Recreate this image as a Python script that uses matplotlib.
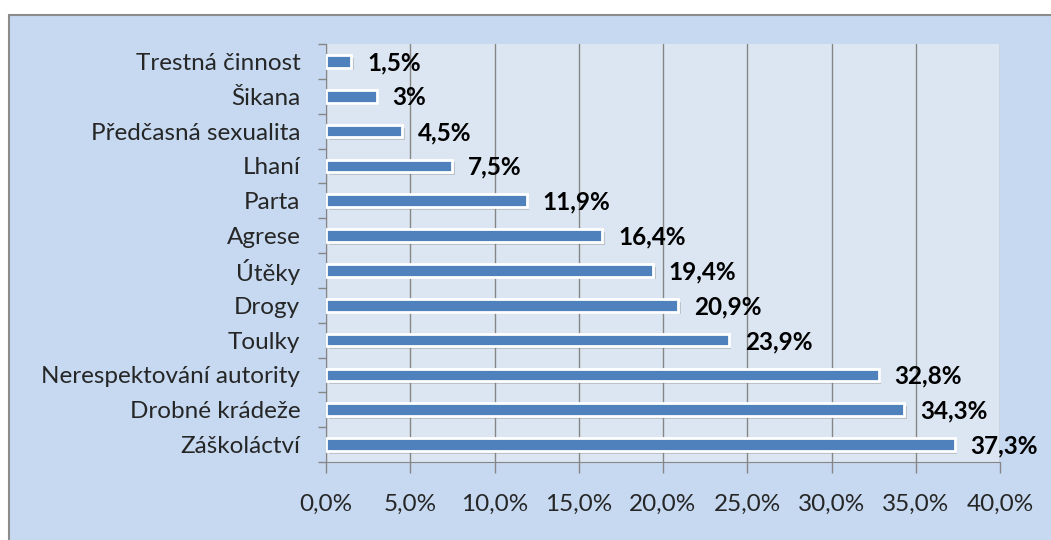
import matplotlib
matplotlib.use("Agg")
import matplotlib.pyplot as plt
import matplotlib.patheffects as pe
from matplotlib.patches import Rectangle
import numpy as np

categories = [
    "Záškoláctví",
    "Drobné krádeže",
    "Nerespektování autority",
    "Toulky",
    "Drogy",
    "Útěky",
    "Agrese",
    "Parta",
    "Lhaní",
    "Předčasná sexualita",
    "Šikana",
    "Trestná činnost",
]
values = [37.3, 34.3, 32.8, 23.9, 20.9, 19.4, 16.4, 11.9, 7.5, 4.5, 3.0, 1.5]
value_labels = ["37,3%", "34,3%", "32,8%", "23,9%", "20,9%", "19,4%",
                "16,4%", "11,9%", "7,5%", "4,5%", "3%", "1,5%"]
x_ticks = [0, 5, 10, 15, 20, 25, 30, 35, 40]
x_tick_labels = ["0,0%", "5,0%", "10,0%", "15,0%", "20,0%", "25,0%",
                 "30,0%", "35,0%", "40,0%"]

plt.rcParams["font.family"] = ["Lato", "DejaVu Sans"]

W, H = 1051, 540
fig = plt.figure(figsize=(W / 100, H / 100), dpi=100)
fig.patch.set_facecolor("white")

# chart area panel with grey border on the top and left
frame = Rectangle((9 / W, -0.05), 1.1, (H - 15) / H + 0.05,
                  transform=fig.transFigure, facecolor="#C6D9F1",
                  edgecolor="#8C8C8C", linewidth=1.5, zorder=-10)
fig.add_artist(frame)

ax = fig.add_axes([326 / W, (H - 462) / H, (1000 - 326) / W, (462 - 44) / H])
ax.set_zorder(1)
ax.set_facecolor("#DCE6F2")

y = np.arange(len(categories))
bars = ax.barh(y, values, height=0.36, color="#4F81BD", edgecolor="white",
               linewidth=2, zorder=3)
for b in bars:
    b.set_path_effects([pe.SimplePatchShadow(offset=(2, -2), shadow_rgbFace="#7F7F7F", alpha=0.35),
                        pe.Normal()])

for yi, v, lab in zip(y, values, value_labels):
    ax.annotate(lab, (v, yi), xytext=(11.5, -1), textcoords="offset points",
                ha="left", va="center", fontsize=17.5, fontweight="bold",
                color="black", zorder=5, annotation_clip=False)

ax.set_xlim(0, 40)
ax.set_ylim(-0.5, len(categories) - 0.5)

ax.set_xticks(x_ticks)
ax.set_xticklabels(x_tick_labels, fontsize=17.5, color="#262626")
ax.tick_params(axis="x", length=8, width=1, color="#868686", pad=15)
ax.xaxis.grid(True, color="#868686", linewidth=1, zorder=1)
ax.set_axisbelow(True)

# category boundaries carry the tick marks; names sit at the centres
ax.set_yticks(np.arange(-0.5, len(categories), 1.0))
ax.set_yticklabels([])
ax.tick_params(axis="y", which="major", length=6, width=1, color="#868686", direction="out")
ax.set_yticks(y, minor=True)
ax.set_yticklabels(categories, minor=True, fontsize=17.5, color="#262626")
ax.tick_params(axis="y", which="minor", length=0, pad=18.5)

ax.spines["top"].set_visible(False)
ax.spines["right"].set_visible(False)
ax.spines["left"].set_color("#868686")
ax.spines["bottom"].set_color("#868686")

fig.savefig("out.png", dpi=100)
